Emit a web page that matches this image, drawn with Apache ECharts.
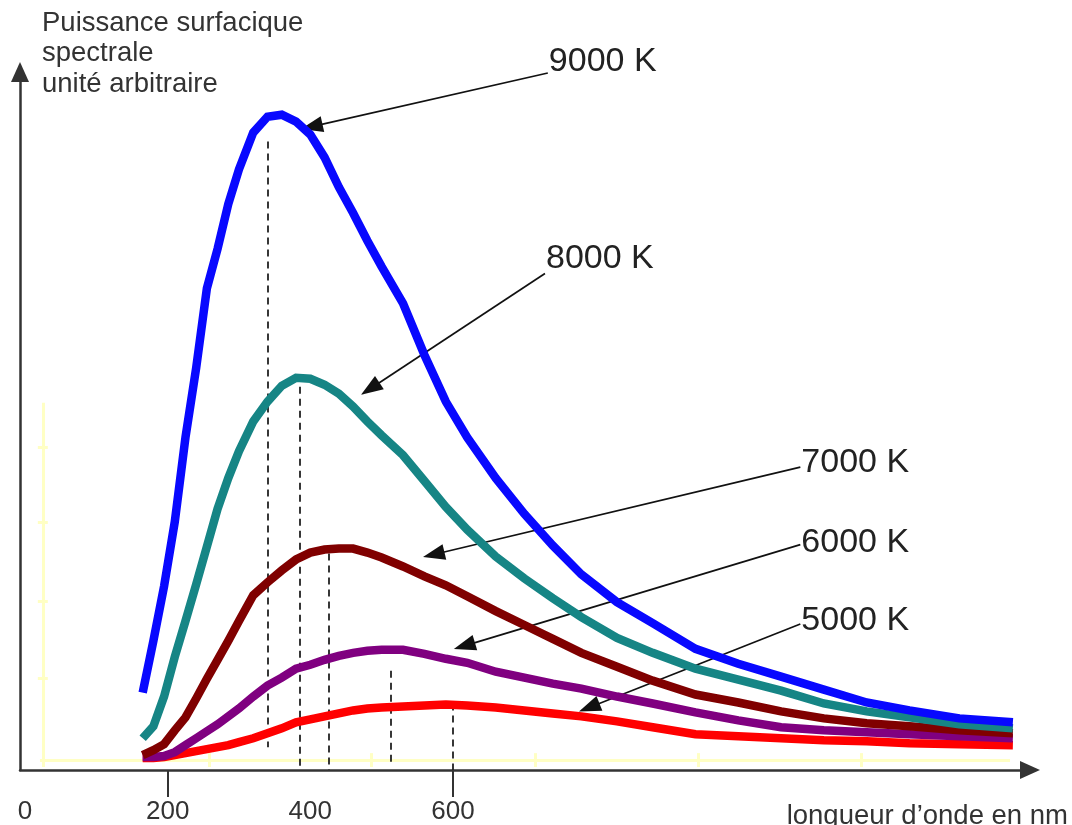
<!DOCTYPE html>
<html>
<head>
<meta charset="utf-8">
<script src="https://cdn.jsdelivr.net/npm/echarts@6/dist/echarts.min.js"></script>
<style>
html,body{margin:0;padding:0;background:#fff;}
#chart{width:1072px;height:825px;}
</style>
</head>
<body>
<div id="chart"></div>
<script>
// Wavelengths (nm) shared by all curves
const wavelengths = [165,180,195,210,225,240,255,270,285,300,320,340,360,380,400,420,440,460,480,500,530,560,590,620,660,700,740,780,830,880,940,1000,1060,1120,1180,1240,1310,1385];
// Spectral power (arbitrary units)
const t9000 = [78,130,185,250,335,405,485,525,570,605,642,658,660,653,640,617,587,561,533,507,470,418,371,335,294,258,226,197,169,148,122,107,94,81,68,60,52,48];
const t8000 = [32,44,74,114,150,187,225,263,294,321,351,371,387,395,394,388,379,366,351,337,317,291,265,242,215,193,173,154,133,118,102,91,80,67,59,53,46,42];
const t7000 = [15,20,26,40,53,72,92,111,130,150,176,189,201,212,219,222,223,223,219,214,205,195,186,175,160,146,132,118,104,90,76,68,59,52,47,44,40,37];
const t6000 = [13,13,14,18,25,32,39,46,54,62,74,85,93,102,106,111,115,118,120,121,121,117,112,108,99,93,87,82,74,67,58,50,43,40,38,36,34,32];
const t5000 = [12,12,13,15,17,19,21,23,25,28,32,37,42,48,51,54,57,60,62,63,64,65,66,65,63,60,57,54,49,43,36,34,32,30,29,27,26,25];

const seriesNames = ['9000 K','8000 K','7000 K','6000 K','5000 K'];
const seriesValues = [t9000, t8000, t7000, t6000, t5000];
const seriesColors = ['#0808ff','#168585','#800000','#800080','#ff0000'];

// Peak markers (dashed verticals): wavelength, top, bottom
const peakNm = [341, 385, 426, 513, 600];
const peakTop = [633, 398, 218, 100, 67];
const peakBottom = [23, 0, 0, 7, 0];

// Annotation arrows: label anchor and arrow end (data coords)
const labelAnchor = [[733,702],[729,500],[1087,305],[1087,227],[1087,147]];
const arrowEnd = [[402,648],[484,384],[573,217],[616,125],[791,63]];
const labelOffsetY = [-11,-15,-5,-2,-3];

const xTickLabels = [0, 200, 400, 600];
const xTickMarks = [200, 600];

const chart = echarts.init(document.getElementById('chart'));

const series = [];
// faint yellow background guides
series.push({
  type: 'line', data: [], silent: true, z: 1,
  markLine: {
    silent: true, symbol: ['none','none'], animation: false,
    label: {show: false},
    lineStyle: {color: '#ffffc4', width: 3, type: 'solid'},
    data: [
      [{coord:[21,10]},{coord:[1381,10]}],
      [{coord:[25,10]},{coord:[25,370]}],
      ...[325,250,170,92].map(v => [{coord:[18,v]},{coord:[32,v]}]),
      ...[25,258,486,715,944,1172].map(n => [{coord:[n,3]},{coord:[n,17]}])
    ]
  }
});

for (let i = seriesValues.length - 1; i >= 0; i--) {
  const vals = seriesValues[i];
  series.push({
    name: seriesNames[i],
    type: 'line',
    data: wavelengths.map((w, k) => [w, vals[k]]),
    showSymbol: false,
    symbol: 'none',
    z: 10 + (seriesValues.length - i),
    lineStyle: {color: seriesColors[i], width: 8.5, cap: 'butt', join: 'miter'},
    itemStyle: {color: seriesColors[i]},
    markLine: {
      silent: true, animation: false,
      label: {show: false},
      data: [
        [{coord:[peakNm[i], peakTop[i]], symbol:'none', lineStyle:{color:'#222', width:1.8, type:[7,5]}},
         {coord:[peakNm[i], peakBottom[i]], symbol:'none'}],
        [{coord:labelAnchor[i], symbol:'none', lineStyle:{color:'#111', width:1.7, type:'solid'}},
         {coord:arrowEnd[i], symbol:'triangle', symbolSize:[16,22]}]
      ]
    },
    markPoint: {
      silent: true, animation: false,
      symbol: 'circle', symbolSize: 0,
      data: [{coord: labelAnchor[i]}],
      label: {
        show: true, position: 'right', distance: 1,
        formatter: seriesNames[i],
        fontFamily: 'Liberation Sans, Arial, sans-serif',
        fontSize: 34, color: '#222',
        offset: [0, labelOffsetY[i]]
      }
    }
  });
}

chart.setOption({
  animation: false,
  backgroundColor: '#fff',
  grid: {left: 20, right: 42, top: 72, bottom: 50, containLabel: false},
  xAxis: {
    type: 'value', min: -7, max: 1409,
    axisLine: {show: true, onZero: false, symbol: ['none','triangle'], symbolSize: [18,20],
      lineStyle: {color: '#333', width: 2.5}},
    axisTick: {show: true, customValues: xTickMarks, length: 27, lineStyle: {color: '#333', width: 2}},
    axisLabel: {show: true, customValues: xTickLabels, margin: 29,
      fontFamily: 'Liberation Sans, Arial, sans-serif', fontSize: 26, color: '#333'},
    splitLine: {show: false}
  },
  yAxis: {
    type: 'value', min: 0, max: 703,
    axisLine: {show: true, onZero: false, symbol: ['none','triangle'], symbolSize: [18,20],
      lineStyle: {color: '#333', width: 2.5}},
    axisTick: {show: false},
    axisLabel: {show: false},
    splitLine: {show: false}
  },
  graphic: [
    {type: 'text', left: 42, top: 8, silent: true,
     style: {text: 'Puissance surfacique\nspectrale\nunité arbitraire',
       font: '27.5px "Liberation Sans", Arial, sans-serif', fill: '#333', lineHeight: 30.5}},
    {type: 'text', right: 4, top: 802, silent: true,
     style: {text: 'longueur d’onde en nm',
       font: '27.5px "Liberation Sans", Arial, sans-serif', fill: '#333'}}
  ],
  series: series
});
</script>
</body>
</html>
